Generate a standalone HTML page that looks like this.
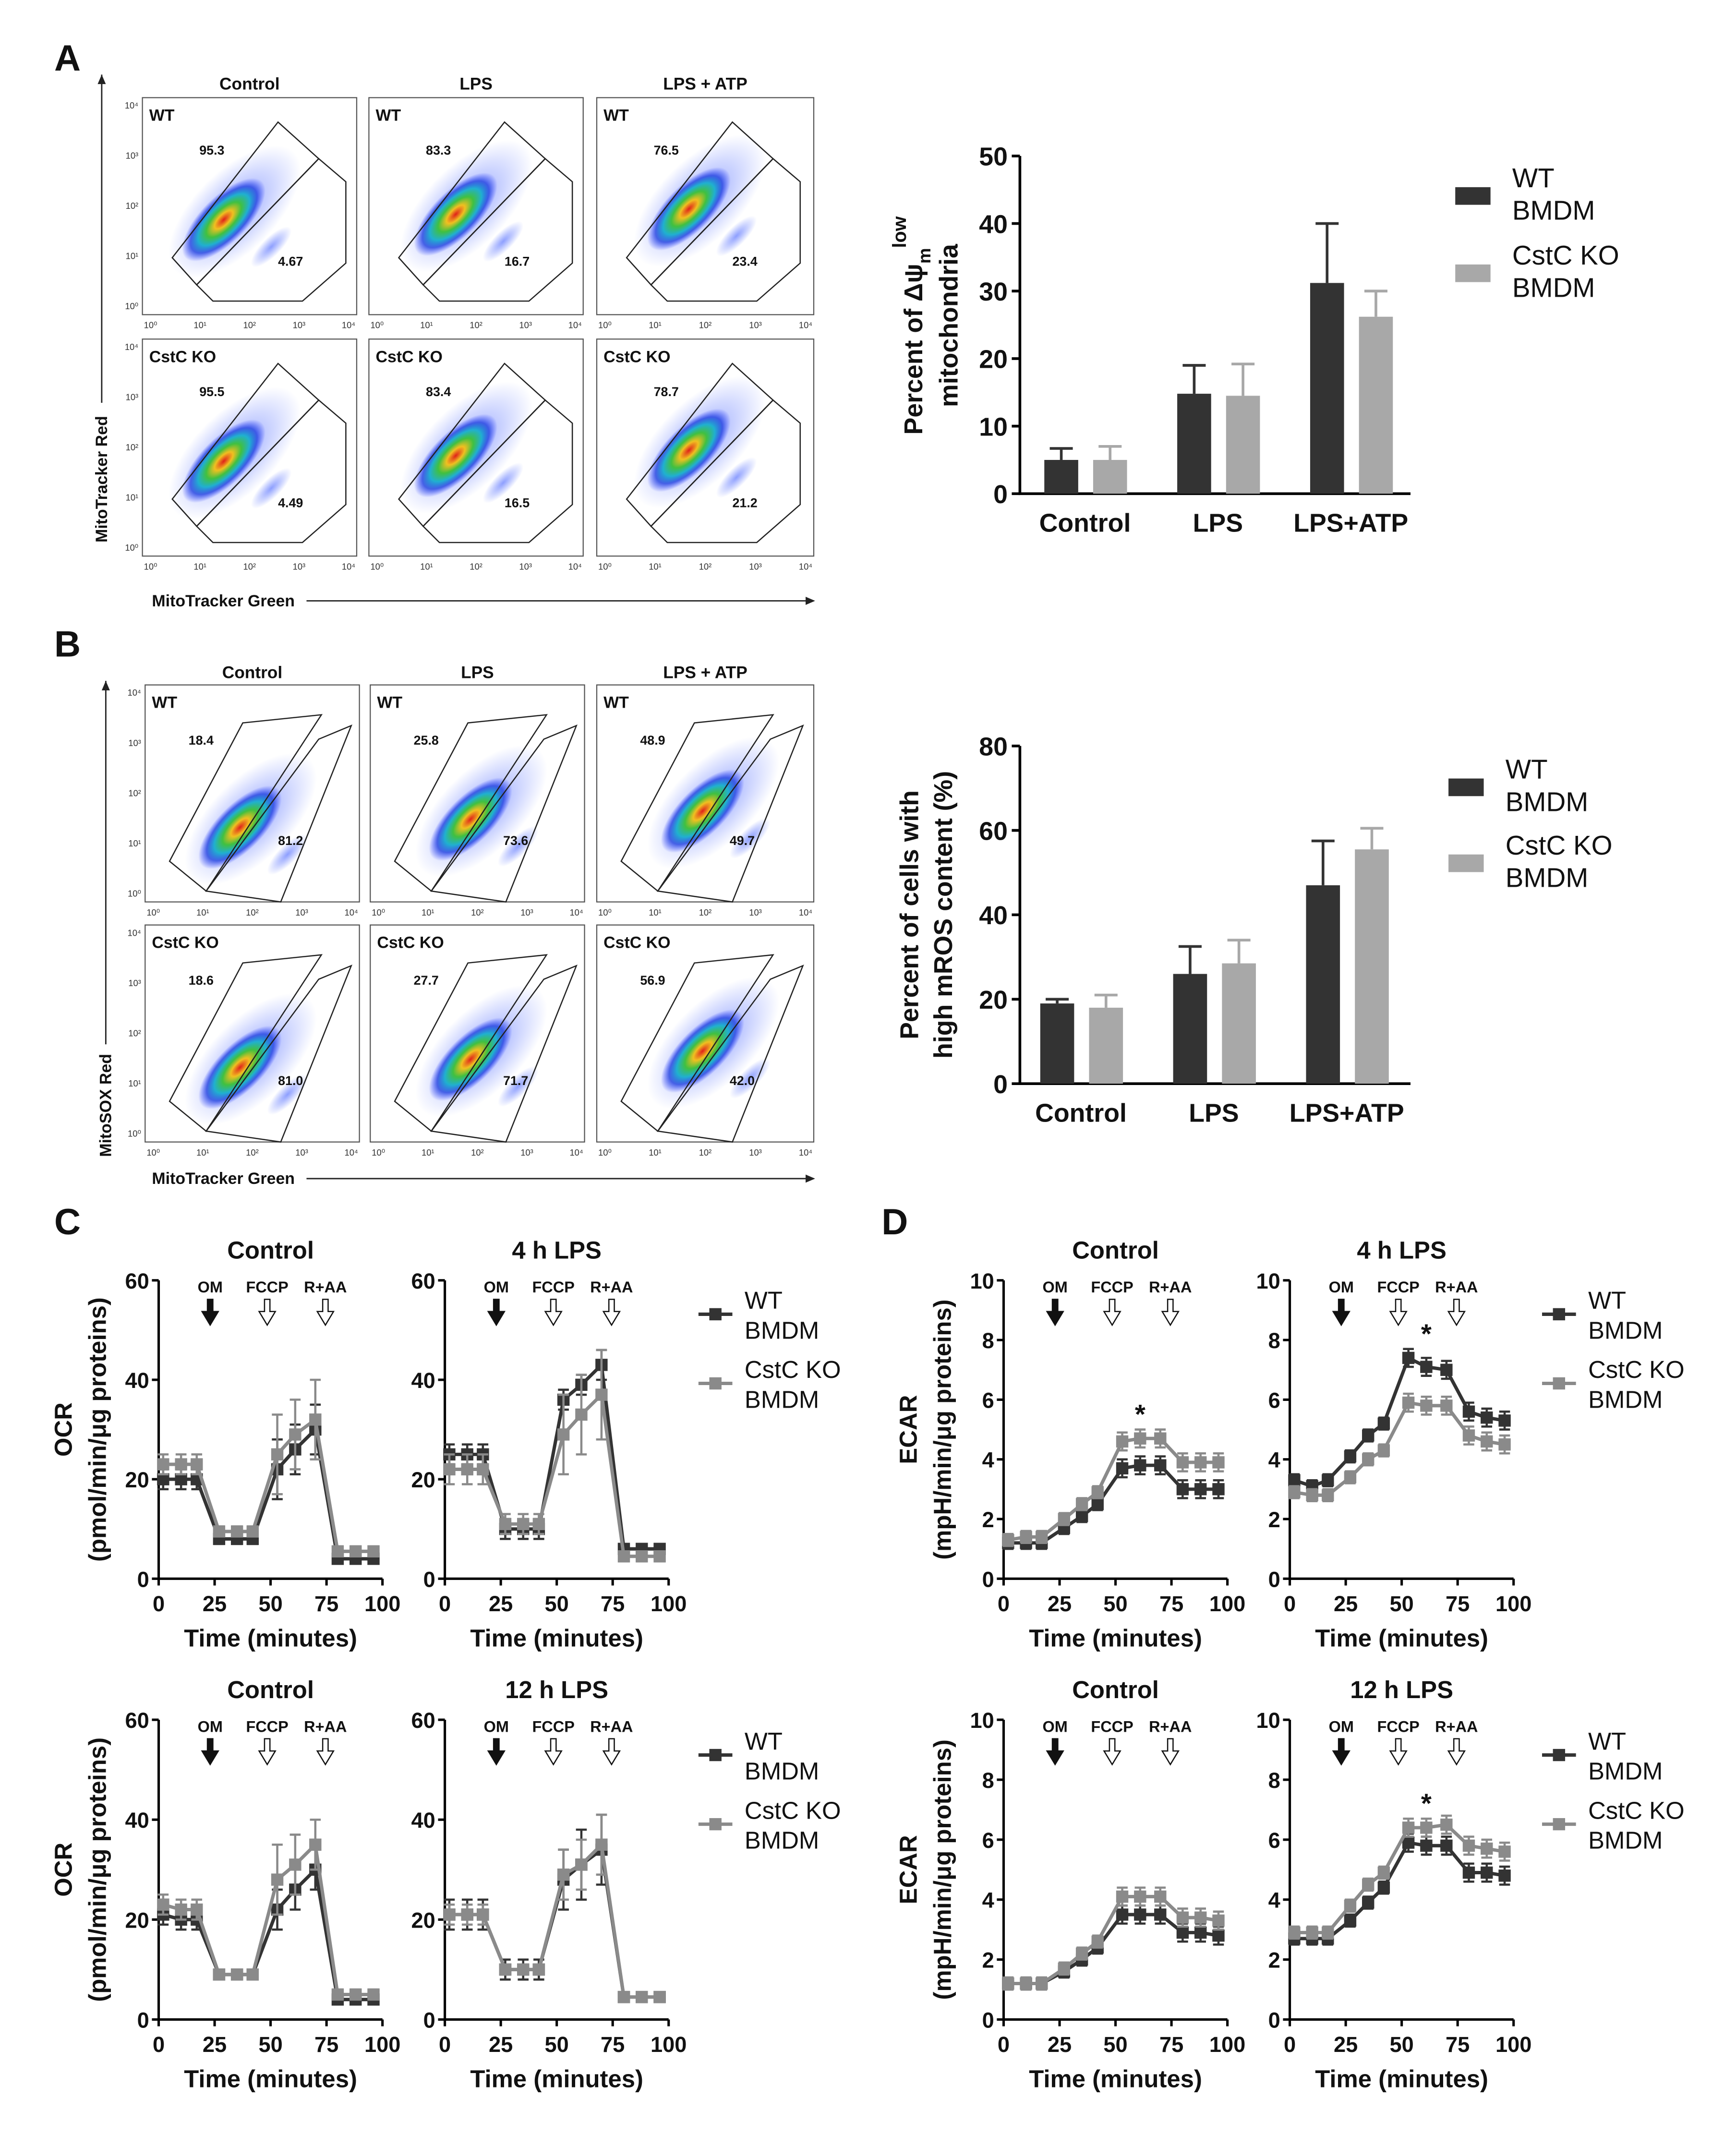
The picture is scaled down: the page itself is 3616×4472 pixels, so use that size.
<!DOCTYPE html>
<html><head><meta charset="utf-8"><style>
html,body{margin:0;padding:0;background:#fff;}
svg{display:block;font-family:"Liberation Sans",Arial,sans-serif;}
</style></head><body>
<svg id="fig" xmlns="http://www.w3.org/2000/svg" width="3616" height="4472" viewBox="0 0 1280 1583">
<defs>
<radialGradient id="dens" cx="50%" cy="50%" r="50%">
<stop offset="0" stop-color="#e0201a"/>
<stop offset="0.22" stop-color="#f0c020"/>
<stop offset="0.42" stop-color="#40c040"/>
<stop offset="0.62" stop-color="#20b0d0"/>
<stop offset="0.8" stop-color="#2040e0" stop-opacity="0.8"/>
<stop offset="1" stop-color="#3040ff" stop-opacity="0"/>
</radialGradient>
<radialGradient id="halo" cx="50%" cy="50%" r="50%">
<stop offset="0" stop-color="#3050ff" stop-opacity="0.55"/>
<stop offset="1" stop-color="#3050ff" stop-opacity="0"/>
</radialGradient>
</defs>
<rect x="0" y="0" width="1280" height="1583" fill="#fff"/>
<g id="root"></g>
</svg>
<script>
// ---------- DATA ----------
const barCats = ['Control', 'LPS', 'LPS+ATP'];
const aWT = [5, 14.8, 31.2];
const aWTerr = [1.7, 4.2, 8.8];
const aKO = [5, 14.5, 26.2];
const aKOerr = [2, 4.7, 3.8];
const aTicks = [0, 10, 20, 30, 40, 50];
const bWT = [19, 26, 47];
const bWTerr = [1, 6.5, 10.5];
const bKO = [18, 28.5, 55.5];
const bKOerr = [3, 5.5, 5];
const bTicks = [0, 20, 40, 60, 80];

const times = [2, 10, 17, 27, 35, 42, 53, 61, 70, 80, 88, 96];
const xTicks = [0, 25, 50, 75, 100];
const ocrTicks = [0, 20, 40, 60];
const ecarTicks = [0, 2, 4, 6, 8, 10];
const injLabels = ['OM', 'FCCP', 'R+AA'];
const injTimes = [23, 48.5, 74.5];

const c1WT = [20, 20, 20, 8, 8, 8, 22, 26, 30, 4, 4, 4];
const c1KO = [23, 23, 23, 9.5, 9.5, 9.5, 25, 29, 32, 5.5, 5.5, 5.5];
const c1WTerr = [2, 2, 2, 1, 1, 1, 6, 5, 5, 1, 1, 1];
const c1KOerr = [2, 2, 2, 1, 1, 1, 8, 7, 8, 1, 1, 1];
const c2WT = [25, 25, 25, 10, 10, 10, 36, 39, 43, 6, 6, 6];
const c2KO = [22, 22, 22, 11, 11, 11, 29, 33, 37, 4.5, 4.5, 4.5];
const c2WTerr = [2, 2, 2, 2, 2, 2, 2, 2, 3, 1, 1, 1];
const c2KOerr = [3, 3, 3, 2, 2, 2, 8, 8, 9, 1, 1, 1];
const c3WT = [21, 20, 20, 9, 9, 9, 22, 26, 30, 4, 4, 4];
const c3KO = [23, 22, 22, 9, 9, 9, 28, 31, 35, 5, 5, 5];
const c3WTerr = [2, 2, 2, 1, 1, 1, 4, 4, 4, 1, 1, 1];
const c3KOerr = [2, 2, 2, 1, 1, 1, 7, 6, 5, 1, 1, 1];
const c4WT = [21, 21, 21, 10, 10, 10, 28, 31, 34, 4.5, 4.5, 4.5];
const c4KO = [21, 21, 21, 10, 10, 10, 29, 31, 35, 4.5, 4.5, 4.5];
const c4WTerr = [3, 3, 3, 2, 2, 2, 6, 7, 7, 1, 1, 1];
const c4KOerr = [2, 2, 2, 1, 1, 1, 5, 5, 6, 1, 1, 1];

const d1WT = [1.2, 1.2, 1.2, 1.7, 2.1, 2.5, 3.7, 3.8, 3.8, 3.0, 3.0, 3.0];
const d1KO = [1.3, 1.4, 1.4, 2.0, 2.5, 2.9, 4.6, 4.7, 4.7, 3.9, 3.9, 3.9];
const d2WT = [3.3, 3.1, 3.3, 4.1, 4.8, 5.2, 7.4, 7.1, 7.0, 5.6, 5.4, 5.3];
const d2KO = [2.9, 2.8, 2.8, 3.4, 4.0, 4.3, 5.9, 5.8, 5.8, 4.8, 4.6, 4.5];
const d3WT = [1.2, 1.2, 1.2, 1.6, 2.0, 2.4, 3.5, 3.5, 3.5, 2.9, 2.9, 2.8];
const d3KO = [1.2, 1.2, 1.2, 1.7, 2.2, 2.6, 4.1, 4.1, 4.1, 3.4, 3.4, 3.3];
const d4WT = [2.7, 2.7, 2.7, 3.3, 3.9, 4.4, 5.9, 5.8, 5.8, 4.9, 4.9, 4.8];
const d4KO = [2.9, 2.9, 2.9, 3.8, 4.5, 4.9, 6.4, 6.4, 6.5, 5.8, 5.7, 5.6];
const dErr = [0.2, 0.2, 0.2, 0.2, 0.2, 0.2, 0.3, 0.3, 0.3, 0.3, 0.3, 0.3];

const flowA = [['95.3', '4.67'], ['83.3', '16.7'], ['76.5', '23.4'], ['95.5', '4.49'], ['83.4', '16.5'], ['78.7', '21.2']];
const flowB = [['18.4', '81.2'], ['25.8', '73.6'], ['48.9', '49.7'], ['18.6', '81.0'], ['27.7', '71.7'], ['56.9', '42.0']];

// ---------- HELPERS ----------
const NS = 'http://www.w3.org/2000/svg';
const root = document.getElementById('root');
function mk(tag, attrs, parent, text) {
  const e = document.createElementNS(NS, tag);
  for (const k in attrs) e.setAttribute(k, attrs[k]);
  if (text !== undefined) e.textContent = text;
  (parent || root).appendChild(e);
  return e;
}
function txt(x, y, s, size, opts, parent) {
  const a = Object.assign({x: x, y: y, 'font-size': size, fill: '#111'}, opts || {});
  return mk('text', a, parent, s);
}

[['A', 40, 52], ['B', 40, 484], ['C', 40, 910], ['D', 650, 910]].forEach(p => {
  const t = txt(p[1], p[2], p[0], 27, {'font-weight': 'bold'});
  
  
});

// ---------- FLOW PLOTS ----------
function flowGrid(cols, rows, headerY, nums, kind, yLabel, xLabelY, axisX, yTopArrow, yBotArrow, labLen) {
  const heads = ['Control', 'LPS', 'LPS + ATP'];
  heads.forEach((h, i) => {
    const t = txt((cols[i][0] + cols[i][1]) / 2, headerY, h, 12.5, {'font-weight': 'bold', 'text-anchor': 'middle'});
    
    
  });
  let k = 0;
  rows.forEach((r, ri) => {
    cols.forEach((c, ci) => {
      const g = mk('g', {transform: 'translate(' + c[0] + ',' + r[0] + ')'});
      
      
      const w = c[1] - c[0], h = r[1] - r[0];
      const box = mk('rect', {x: 0, y: 0, width: w, height: h, fill: 'none', stroke: '#555', 'stroke-width': 0.8}, g);
      
      
      let cx, cy, up, lo, nu, nl;
      if (kind === 'A') {
        cx = 60 + ci * 4; cy = 90 - ci * 4;
        up = [[22, 118], [100, 18], [130, 45], [40, 138]];
        lo = [[40, 138], [130, 45], [150, 62], [150, 122], [118, 150], [52, 150]];
        nu = [42, 42]; nl = [100, 124];
      } else {
        cx = 70 + ci * 4; cy = 105 - ci * 6;
        up = [[18, 130], [72, 28], [130, 22], [45, 152]];
        lo = [[45, 152], [128, 40], [152, 30], [100, 160]];
        nu = [32, 44]; nl = [98, 118];
      }
      const halo = mk('ellipse', {cx: cx + 8, cy: cy - 6, rx: 62, ry: 30, fill: 'url(#halo)', transform: 'rotate(-45 ' + (cx + 8) + ' ' + (cy - 6) + ')'}, g);
      
      
      const den = mk('ellipse', {cx: cx, cy: cy, rx: 40, ry: 17, fill: 'url(#dens)', transform: 'rotate(-45 ' + cx + ' ' + cy + ')'}, g);
      
      
      const den2 = mk('ellipse', {cx: cx + 35, cy: cy + 20, rx: 20, ry: 7, fill: 'url(#halo)', transform: 'rotate(-45 ' + (cx + 35) + ' ' + (cy + 20) + ')'}, g);
      
      
      const pu = mk('polygon', {points: up.map(p => p.join(',')).join(' '), fill: 'none', stroke: '#222', 'stroke-width': 0.9}, g);
      
      
      const pl = mk('polygon', {points: lo.map(p => p.join(',')).join(' '), fill: 'none', stroke: '#222', 'stroke-width': 0.9}, g);
      
      
      const lab = txt(5, 17, ri === 0 ? 'WT' : 'CstC KO', 12, {'font-weight': 'bold'}, g);
      
      
      const n1 = txt(nu[0], nu[1], nums[k][0], 9.5, {'font-weight': 'bold'}, g);
      
      
      const n2 = txt(nl[0], nl[1], nums[k][1], 9.5, {'font-weight': 'bold'}, g);
      
      
      for (let i = 0; i < 5; i++) {
        const tx = 6 + i * (w - 12) / 4;
        const tl = txt(tx, h + 10, '10' + ['⁰', '¹', '²', '³', '⁴'][i], 6.5, {'text-anchor': 'middle', fill: '#333'}, g);
        
        
        if (ci === 0) {
          const ty = h - 6 - i * (h - 12) / 4;
          const yl = txt(-3, ty + 2, '10' + ['⁰', '¹', '²', '³', '⁴'][i], 6.5, {'text-anchor': 'end', fill: '#333'}, g);
          
          
        }
      }
      k++;
    });
  });
  const arrowStart = yBotArrow - 5 - labLen - 8;
  const ya = mk('line', {x1: axisX, y1: arrowStart, x2: axisX, y2: yTopArrow, stroke: '#222', 'stroke-width': 1});
  
  
  const yh = mk('polygon', {points: (axisX - 3) + ',' + (yTopArrow + 7) + ' ' + axisX + ',' + yTopArrow + ' ' + (axisX + 3) + ',' + (yTopArrow + 7), fill: '#222'});
  
  
  const yt = txt(axisX + 4, yBotArrow - 5, yLabel, 12, {'font-weight': 'bold', transform: 'rotate(-90 ' + (axisX + 4) + ' ' + (yBotArrow - 5) + ')'});
  
  
  const xt = txt(112, xLabelY + 4, 'MitoTracker Green', 12, {'font-weight': 'bold'});
  
  
  const xa = mk('line', {x1: 226, y1: xLabelY, x2: 600, y2: xLabelY, stroke: '#222', 'stroke-width': 1});
  
  
  const xh = mk('polygon', {points: '594,' + (xLabelY - 3) + ' 601,' + xLabelY + ' 594,' + (xLabelY + 3), fill: '#222'});
  
  
}
flowGrid([[105, 263], [272, 430], [440, 600]], [[72, 232], [250, 410]], 66, flowA, 'A', 'MitoTracker Red', 443, 75, 55, 405, 95);
flowGrid([[107, 265], [273, 431], [440, 600]], [[505, 665], [682, 842]], 500, flowB, 'B', 'MitoSOX Red', 869, 78, 502, 858, 75);

// ---------- BAR CHARTS ----------
function barChart(pfx, wt, wtE, ko, koE, ticks, ymax, yTop, yBot, centers, catY, ylab1, ylab2, labX, leg) {
  const ax = 752, xEnd = 1040;
  const ys = v => yBot - v / ymax * (yBot - yTop);
  const yAx = mk('line', {x1: ax, y1: yTop, x2: ax, y2: yBot, stroke: '#000', 'stroke-width': 2});
  
  
  const xAx = mk('line', {x1: ax - 1, y1: yBot, x2: xEnd, y2: yBot, stroke: '#000', 'stroke-width': 2});
  
  
  ticks.forEach(t => {
    const tk = mk('line', {x1: ax - 6, y1: ys(t), x2: ax, y2: ys(t), stroke: '#000', 'stroke-width': 2});
    
    
    const tl = txt(ax - 9, ys(t) + 7, String(t), 19, {'font-weight': 'bold', 'text-anchor': 'end'});
    
    
  });
  barCats.forEach((c, i) => {
    const cx = centers[i];
    [[wt, wtE, cx - 30, '#333333', 'wt'], [ko, koE, cx + 6, '#a8a8a8', 'ko']].forEach(s => {
      const v = s[0][i], e = s[1][i], x = s[2];
      const eb = mk('line', {x1: x + 12.5, y1: ys(v), x2: x + 12.5, y2: ys(v + e), stroke: s[3], 'stroke-width': 2});
      
      
      const ec = mk('line', {x1: x + 4, y1: ys(v + e), x2: x + 21, y2: ys(v + e), stroke: s[3], 'stroke-width': 2});
      
      
      const b = mk('rect', {x: x, y: ys(v), width: 25, height: yBot - ys(v), fill: s[3]});
      
      
    });
    const cl = txt(cx, catY, c, 19, {'font-weight': 'bold', 'text-anchor': 'middle'});
    
    
  });
  if (ylab1) {
    const cy = (yTop + yBot) / 2;
    const l1 = txt(labX, cy, ylab1, 19, {'font-weight': 'bold', 'text-anchor': 'middle', transform: 'rotate(-90 ' + labX + ' ' + cy + ')'});
    
    
    const l2 = txt(labX + 25, cy, ylab2, 19, {'font-weight': 'bold', 'text-anchor': 'middle', transform: 'rotate(-90 ' + (labX + 25) + ' ' + cy + ')'});
    
    
  }
  [['#333333', 'WT', leg[1]], ['#a8a8a8', 'CstC KO', leg[2]]].forEach((s, i) => {
    const sq = mk('rect', {x: leg[0], y: s[2] - 6, width: 26, height: 13, fill: s[0]});
    
    
    const t1 = txt(leg[0] + 42, s[2] - 6, s[1], 20, {});
    
    
    const t2 = txt(leg[0] + 42, s[2] + 18, 'BMDM', 20, {});
    
    
  });
}
barChart('bar-a', aWT, aWTerr, aKO, aKOerr, aTicks, 50, 115, 364, [800, 898, 996], 392, null, null, 679, [1073, 144, 201]);
(function () {
  const cy = 240;
  const t = mk('text', {x: 680, y: cy, 'font-size': 19, 'font-weight': 'bold', 'text-anchor': 'middle', fill: '#111', transform: 'rotate(-90 680 ' + cy + ')'});
  
  
  t.innerHTML = 'Percent of Δψ<tspan font-size="13" dy="6">m</tspan><tspan font-size="14" dy="-18">low</tspan>';
  const t2 = txt(706, cy, 'mitochondria', 19, {'font-weight': 'bold', 'text-anchor': 'middle', transform: 'rotate(-90 706 ' + cy + ')'});
  
  
})();
barChart('bar-b', bWT, bWTerr, bKO, bKOerr, bTicks, 80, 550, 799, [797, 895, 993], 827, 'Percent of cells with', 'high mROS content (%)', 677, [1068, 580, 636]);

// ---------- LINE CHARTS ----------
function lineChart(pfx, x0, yTop, yBot, ymax, ticks, title, wt, wtE, ko, koE, ylabA, ylabB, star, legX, legY) {
  const xs = t => x0 + t * 1.65;
  const ys = v => yBot - v / ymax * (yBot - yTop);
  const xEnd = xs(100);
  const ya = mk('line', {x1: x0, y1: yTop, x2: x0, y2: yBot, stroke: '#000', 'stroke-width': 1.8});
  
  
  const xa = mk('line', {x1: x0, y1: yBot, x2: xEnd, y2: yBot, stroke: '#000', 'stroke-width': 1.8});
  
  
  ticks.forEach(t => {
    const tk = mk('line', {x1: x0 - 5, y1: ys(t), x2: x0, y2: ys(t), stroke: '#000', 'stroke-width': 1.8});
    
    
    const tl = txt(x0 - 7, ys(t) + 6, String(t), 16, {'font-weight': 'bold', 'text-anchor': 'end'});
    
    
  });
  xTicks.forEach(t => {
    const tk = mk('line', {x1: xs(t), y1: yBot, x2: xs(t), y2: yBot + 5, stroke: '#000', 'stroke-width': 1.8});
    
    
    const tl = txt(xs(t), yBot + 24, String(t), 16, {'font-weight': 'bold', 'text-anchor': 'middle'});
    
    
  });
  const xt = txt((x0 + xEnd) / 2, yBot + 50, 'Time (minutes)', 18, {'font-weight': 'bold', 'text-anchor': 'middle'});
  
  
  const tt = txt((x0 + xEnd) / 2, yTop - 16, title, 18, {'font-weight': 'bold', 'text-anchor': 'middle', 'xml:space': 'preserve'});
  
  
  injLabels.forEach((l, i) => {
    const ix = xs(injTimes[i]);
    const il = txt(ix, yTop + 9, l, 11.5, {'font-weight': 'bold', 'text-anchor': 'middle'});
    
    
    const ay = yTop + 14;
    const pts = [[ix - 2, ay], [ix + 2, ay], [ix + 2, ay + 9], [ix + 6, ay + 9], [ix, ay + 19], [ix - 6, ay + 9], [ix - 2, ay + 9]];
    const ar = mk('polygon', {points: pts.map(p => p.join(',')).join(' '), fill: i === 0 ? '#111' : '#fff', stroke: '#111', 'stroke-width': 0.9});
    
    
  });
  [[wt, wtE, '#333333', 'wt'], [ko, koE, '#8a8a8a', 'ko']].forEach(s => {
    s[0].forEach((v, i) => {
      const e = s[1][i];
      const eb = mk('line', {x1: xs(times[i]), y1: ys(v - e), x2: xs(times[i]), y2: ys(v + e), stroke: s[2], 'stroke-width': 1.6});
      
      
      [v - e, v + e].forEach(y => {
        const c = mk('line', {x1: xs(times[i]) - 4, y1: ys(y), x2: xs(times[i]) + 4, y2: ys(y), stroke: s[2], 'stroke-width': 1.6});
        
        
      });
    });
    const pl = mk('polyline', {points: s[0].map((v, i) => xs(times[i]) + ',' + ys(v)).join(' '), fill: 'none', stroke: s[2], 'stroke-width': 2.5});
    
    
    s[0].forEach((v, i) => {
      const m = mk('rect', {x: xs(times[i]) - 4.5, y: ys(v) - 4.5, width: 9, height: 9, fill: s[2]});
      
      
    });
  });
  if (star !== null) {
    const st = txt(xs(star[0]), ys(star[1]), '*', 20, {'font-weight': 'bold', 'text-anchor': 'middle'});
    
    
  }
  if (ylabA) {
    const cy = (yTop + yBot) / 2;
    const lx = x0 - 64;
    const a = txt(lx, cy, ylabA, 18, {'font-weight': 'bold', 'text-anchor': 'middle', transform: 'rotate(-90 ' + lx + ' ' + cy + ')'});
    
    
    const b = txt(lx + 25, cy, ylabB, 18, {'font-weight': 'bold', 'text-anchor': 'middle', transform: 'rotate(-90 ' + (lx + 25) + ' ' + cy + ')'});
    
    
  }
  if (legX) {
    [['#333333', 'WT', legY], ['#8a8a8a', 'CstC KO', legY + 51]].forEach((s, i) => {
      const ln = mk('line', {x1: legX, y1: s[2], x2: legX + 25, y2: s[2], stroke: s[0], 'stroke-width': 2.5});
      
      
      const sq = mk('rect', {x: legX + 8, y: s[2] - 4.5, width: 9, height: 9, fill: s[0]});
      
      
      const t1 = txt(legX + 34, s[2] - 4, s[1], 18, {});
      
      
      const t2 = txt(legX + 34, s[2] + 18, 'BMDM', 18, {});
      
      
    });
  }
}
lineChart('ocr-ctrl-4h', 117, 944, 1164, 60, ocrTicks, 'Control', c1WT, c1WTerr, c1KO, c1KOerr, 'OCR', '(pmol/min/μg proteins)', null, 0, 0);
lineChart('ocr-4h-lps', 328, 944, 1164, 60, ocrTicks, '4 h  LPS', c2WT, c2WTerr, c2KO, c2KOerr, null, null, null, 515, 969);
lineChart('ocr-ctrl-12h', 117, 1268, 1489, 60, ocrTicks, 'Control', c3WT, c3WTerr, c3KO, c3KOerr, 'OCR', '(pmol/min/μg proteins)', null, 0, 0);
lineChart('ocr-12h-lps', 328, 1268, 1489, 60, ocrTicks, '12 h  LPS', c4WT, c4WTerr, c4KO, c4KOerr, null, null, null, 515, 1294);
lineChart('ecar-ctrl-4h', 740, 944, 1164, 10, ecarTicks, 'Control', d1WT, dErr, d1KO, dErr, 'ECAR', '(mpH/min/μg proteins)', [61, 5.2], 0, 0);
lineChart('ecar-4h-lps', 951, 944, 1164, 10, ecarTicks, '4 h  LPS', d2WT, dErr, d2KO, dErr, null, null, [61, 7.9], 1137, 969);
lineChart('ecar-ctrl-12h', 740, 1268, 1489, 10, ecarTicks, 'Control', d3WT, dErr, d3KO, dErr, 'ECAR', '(mpH/min/μg proteins)', null, 0, 0);
lineChart('ecar-12h-lps', 951, 1268, 1489, 10, ecarTicks, '12 h  LPS', d4WT, dErr, d4KO, dErr, null, null, [61, 6.9], 1137, 1294);
</script>
</body></html>
